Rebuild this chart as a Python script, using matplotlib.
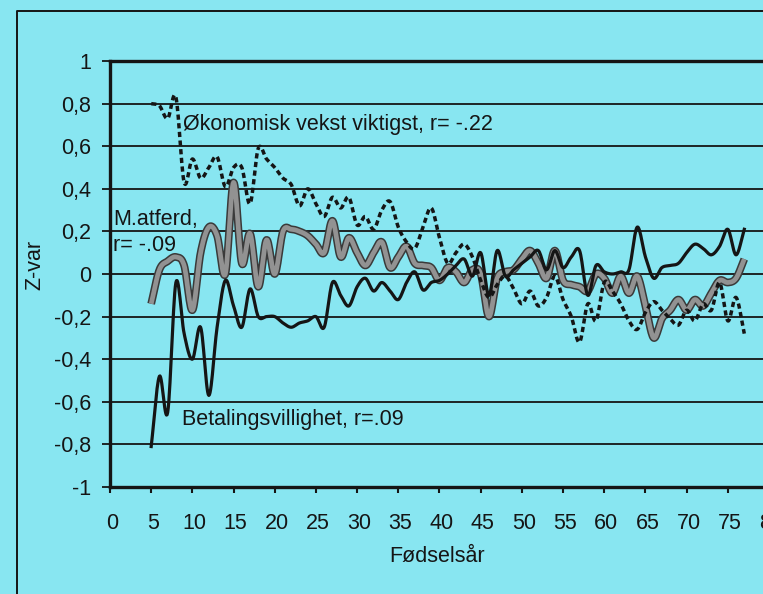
import numpy as np
import matplotlib
matplotlib.use("Agg")
import matplotlib.pyplot as plt
import matplotlib.transforms as mtransforms
from matplotlib.lines import Line2D

# ---------------- data ----------------
years = list(range(5, 78))

betalingsvillighet = [
    -0.81, -0.48, -0.65, -0.04, -0.28, -0.40, -0.25, -0.57, -0.25, -0.03,   # 5-14
    -0.15, -0.25, -0.07, -0.20, -0.20, -0.20, -0.23, -0.25, -0.23, -0.22,   # 15-24
    -0.20, -0.25, -0.04, -0.10, -0.15, -0.06, -0.02, -0.08, -0.04, -0.08,   # 25-34
    -0.12, -0.04, 0.01, -0.075, -0.04, -0.03, 0.00, 0.04, 0.07, -0.01,      # 35-44
    0.10, -0.10, 0.11, -0.01, 0.02, 0.05, 0.08, 0.11, 0.02, 0.11,           # 45-54
    0.03, 0.08, 0.11, -0.10, 0.04, 0.01, 0.00, 0.01, 0.02, 0.22,            # 55-64
    0.08, -0.02, 0.03, 0.04, 0.05, 0.10, 0.14, 0.12, 0.09, 0.13,            # 65-74
    0.21, 0.09, 0.21,                                                       # 75-77
]

m_atferd = [
    -0.14, 0.02, 0.06, 0.08, 0.04, -0.17, 0.10, 0.22, 0.18, 0.00,           # 5-14
    0.43, 0.05, 0.19, -0.06, 0.16, 0.00, 0.20, 0.21, 0.20, 0.18,            # 15-24
    0.14, 0.10, 0.25, 0.08, 0.17, 0.10, 0.04, 0.10, 0.15, 0.03,             # 25-34
    0.08, 0.13, 0.05, 0.04, 0.03, -0.03, 0.03, 0.01, -0.04, 0.02,           # 35-44
    0.00, -0.20, -0.02, 0.01, 0.02, 0.07, 0.11, 0.05, -0.02, 0.11,          # 45-54
    -0.03, -0.05, -0.06, -0.08, 0.00, -0.02, -0.09, -0.01, -0.09, -0.01,    # 55-64
    -0.15, -0.30, -0.21, -0.17, -0.12, -0.17, -0.12, -0.15, -0.09, -0.03,   # 65-74
    -0.04, -0.02, 0.07,                                                     # 75-77
]

okonomisk_vekst = [
    0.80, 0.79, 0.73, 0.83, 0.43, 0.54, 0.45, 0.50, 0.55, 0.41,             # 5-14
    0.50, 0.50, 0.33, 0.59, 0.54, 0.50, 0.45, 0.42, 0.32, 0.40,             # 15-24
    0.33, 0.27, 0.36, 0.31, 0.36, 0.23, 0.27, 0.21, 0.30, 0.34,             # 25-34
    0.22, 0.15, 0.12, 0.22, 0.31, 0.17, 0.05, 0.10, 0.14, 0.08,             # 35-44
    -0.03, -0.11, -0.05, -0.01, -0.07, -0.14, -0.08, -0.15, -0.11, -0.01,   # 45-54
    -0.12, -0.20, -0.32, -0.14, -0.22, -0.04, -0.08, -0.14, -0.22, -0.26,   # 55-64
    -0.18, -0.13, -0.17, -0.21, -0.24, -0.17, -0.22, -0.14, -0.17, -0.04,   # 65-74
    -0.22, -0.11, -0.28,                                                    # 75-77
]

x_ticks = list(range(0, 85, 5))
x_ticklabels = [str(v) for v in x_ticks]
y_ticks = [1.0, 0.8, 0.6, 0.4, 0.2, 0.0, -0.2, -0.4, -0.6, -0.8, -1.0]
y_ticklabels = ["1", "0,8", "0,6", "0,4", "0,2", "0", "-0,2", "-0,4", "-0,6", "-0,8", "-1"]

label_vekst = "Økonomisk vekst viktigst, r= -.22"
label_atferd_1 = "M.atferd,"
label_atferd_2 = "r= -.09"
label_betaling = "Betalingsvillighet, r=.09"
x_title = "Fødselsår"
y_title = "Z-var"


def smooth(x, y, n=14):
    """Catmull-Rom rendering of the data points (like Excel's smoothed line)."""
    P = np.column_stack([np.asarray(x, float), np.asarray(y, float)])
    P = np.vstack([2 * P[0] - P[1], P, 2 * P[-1] - P[-2]])
    t = np.linspace(0, 1, n, endpoint=False)[:, None]
    segs = []
    for i in range(1, len(P) - 2):
        p0, p1, p2, p3 = P[i - 1], P[i], P[i + 1], P[i + 2]
        segs.append(0.5 * (2 * p1 + (-p0 + p2) * t
                           + (2 * p0 - 5 * p1 + 4 * p2 - p3) * t ** 2
                           + (-p0 + 3 * p1 - 3 * p2 + p3) * t ** 3))
    segs.append(P[-2][None, :])
    arr = np.vstack(segs)
    return arr[:, 0], arr[:, 1]


# ---------------- style ----------------
plt.rcParams["font.family"] = ["Liberation Sans", "DejaVu Sans"]
BG = "#88e6f1"
INK = "#151515"
FS = 15.5

W, H = 763, 594
fig = plt.figure(figsize=(W / 100, H / 100), dpi=100, facecolor=BG)
ax = fig.add_axes([110 / W, 107 / H, 659 / W, 426 / H])
ax.set_facecolor(BG)
ax.set_xlim(0, 80)
ax.set_ylim(-1, 1)

ax.set_yticks(y_ticks)
ax.set_yticklabels(y_ticklabels, fontsize=FS, color=INK)
ax.set_xticks(x_ticks)
ax.set_xticklabels(x_ticklabels, fontsize=FS, color=INK)
ax.yaxis.grid(True, color=INK, lw=1.3)
ax.set_axisbelow(True)
ax.tick_params(axis="y", direction="out", length=5.5, width=1.3, pad=8, colors=INK)
ax.tick_params(axis="x", direction="out", length=4.5, width=1.5, pad=14, colors=INK)
offset = mtransforms.ScaledTranslation(2 / 100, 0, fig.dpi_scale_trans)
for lab in ax.get_xticklabels():
    lab.set_transform(lab.get_transform() + offset)

for side in ("left", "bottom", "top"):
    ax.spines[side].set_linewidth(2.4)
    ax.spines[side].set_color(INK)
ax.spines["right"].set_visible(False)

# series
gx, gy = smooth(years, m_atferd)
ax.plot(gx, gy, color="#3a3a3a", lw=5.6, solid_capstyle="butt", zorder=3)
ax.plot(gx, gy, color="#929292", lw=3.4, solid_capstyle="butt", zorder=3.1)

vx, vy = smooth(years, okonomisk_vekst)
ax.plot(vx, vy, color=INK, lw=2.5, linestyle=(0, (1.5, 1.0)), zorder=4)

bx, by = smooth(years, betalingsvillighet)
ax.plot(bx, by, color=INK, lw=2.3, zorder=5)

# annotations
ax.text(8.86, 0.70, label_vekst, fontsize=FS, color=INK, ha="left", va="center")
ax.text(0.4, 0.258, label_atferd_1, fontsize=FS, color=INK, ha="left", va="center")
ax.text(0.4, 0.136, label_atferd_2, fontsize=FS, color=INK, ha="left", va="center")
ax.text(8.8, -0.685, label_betaling, fontsize=FS, color=INK, ha="left", va="center")

fig.text(437 / W, 1 - 556 / H, x_title, fontsize=FS, color=INK, ha="center", va="center")
fig.text(35 / W, 1 - 265 / H, y_title, fontsize=FS, color=INK, ha="center", va="center",
         rotation=90)

# outer frame of the chart area
fig.add_artist(Line2D([17 / W, 17 / W, 1.0], [0.0, 1 - 11 / H, 1 - 11 / H],
                      transform=fig.transFigure, color=INK, lw=1.4))

fig.savefig("out.png", dpi=100, facecolor=BG)
